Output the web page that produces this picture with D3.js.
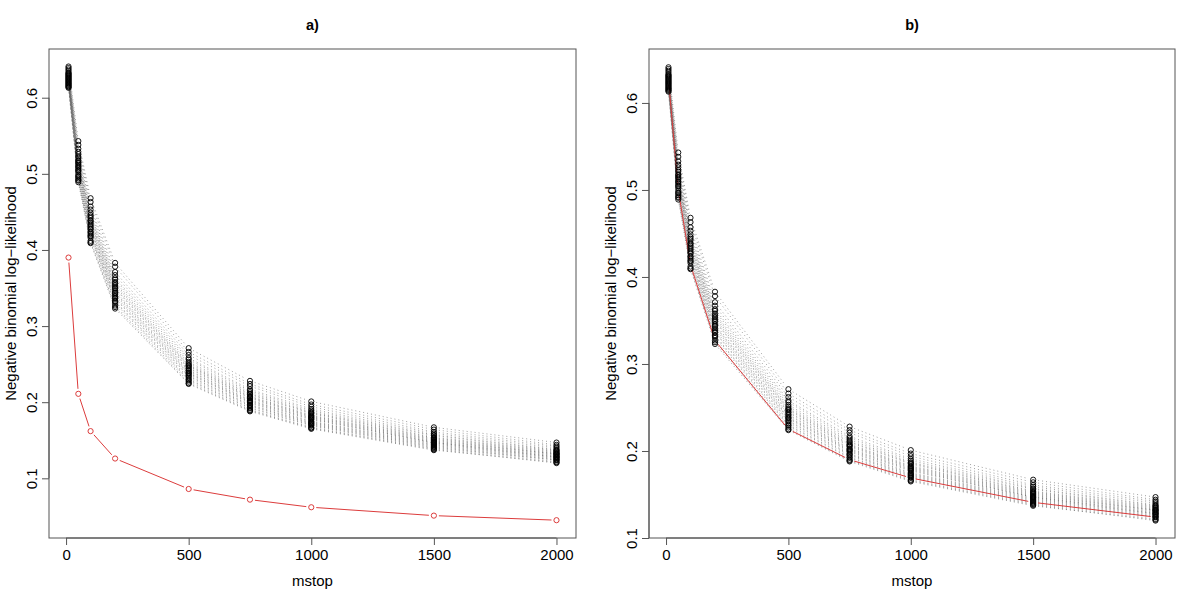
<!DOCTYPE html>
<html>
<head>
<meta charset="utf-8">
<script src="https://cdn.jsdelivr.net/npm/d3@7"></script>
<style>
  body { margin: 0; background: #fff; }
  text { font-family: "Liberation Sans", Arial, Helvetica, sans-serif; fill: #000; }
</style>
</head>
<body>
<svg id="chart" width="1200" height="600"></svg>
<script>
// boosting iterations at which the risk was evaluated
const MSTOP = [10, 50, 100, 200, 500, 750, 1000, 1500, 2000];

// out-of-bag risk, one row per bootstrap fold (25 folds)
const FOLD_RISK = [
    [0.615, 0.489, 0.409, 0.323, 0.224, 0.188, 0.165, 0.137, 0.121],
    [0.613, 0.491, 0.412, 0.325, 0.225, 0.189, 0.166, 0.138, 0.120],
    [0.618, 0.494, 0.410, 0.327, 0.227, 0.190, 0.167, 0.139, 0.122],
    [0.614, 0.492, 0.416, 0.330, 0.229, 0.192, 0.169, 0.140, 0.124],
    [0.619, 0.497, 0.418, 0.332, 0.230, 0.193, 0.170, 0.141, 0.124],
    [0.617, 0.499, 0.419, 0.333, 0.232, 0.195, 0.171, 0.142, 0.125],
    [0.621, 0.496, 0.421, 0.336, 0.234, 0.196, 0.172, 0.143, 0.126],
    [0.620, 0.502, 0.423, 0.337, 0.235, 0.197, 0.173, 0.144, 0.127],
    [0.616, 0.504, 0.424, 0.339, 0.237, 0.199, 0.174, 0.145, 0.128],
    [0.623, 0.505, 0.427, 0.341, 0.238, 0.200, 0.175, 0.146, 0.128],
    [0.622, 0.507, 0.428, 0.343, 0.239, 0.201, 0.177, 0.147, 0.129],
    [0.625, 0.509, 0.430, 0.344, 0.241, 0.202, 0.178, 0.147, 0.130],
    [0.624, 0.510, 0.432, 0.346, 0.242, 0.203, 0.179, 0.148, 0.131],
    [0.627, 0.512, 0.434, 0.349, 0.244, 0.205, 0.180, 0.149, 0.132],
    [0.626, 0.514, 0.436, 0.350, 0.245, 0.206, 0.181, 0.150, 0.132],
    [0.629, 0.515, 0.438, 0.352, 0.247, 0.207, 0.182, 0.151, 0.133],
    [0.628, 0.518, 0.439, 0.354, 0.248, 0.208, 0.183, 0.152, 0.134],
    [0.631, 0.517, 0.442, 0.356, 0.249, 0.210, 0.185, 0.153, 0.135],
    [0.630, 0.521, 0.444, 0.358, 0.251, 0.211, 0.186, 0.154, 0.136],
    [0.633, 0.523, 0.446, 0.361, 0.253, 0.213, 0.187, 0.156, 0.137],
    [0.632, 0.526, 0.449, 0.363, 0.256, 0.215, 0.189, 0.157, 0.138],
    [0.635, 0.529, 0.453, 0.367, 0.258, 0.217, 0.191, 0.159, 0.140],
    [0.637, 0.533, 0.457, 0.371, 0.262, 0.221, 0.194, 0.161, 0.142],
    [0.639, 0.538, 0.463, 0.378, 0.266, 0.224, 0.197, 0.164, 0.144],
    [0.641, 0.543, 0.468, 0.383, 0.271, 0.228, 0.201, 0.167, 0.147]
];

// red curves
const RED_A = [0.390, 0.211, 0.162, 0.126, 0.086, 0.072, 0.062, 0.051, 0.045];
const RED_B = [0.627, 0.500, 0.414, 0.327, 0.225, 0.190, 0.169, 0.141, 0.124];

const X_TICKS = [0, 500, 1000, 1500, 2000];
const Y_TICKS = [0.1, 0.2, 0.3, 0.4, 0.5, 0.6];

const RED = "#dc3c3c";
const GAP = 5; // type = "b": line stops short of each point

const svg = d3.select("#chart");

// R style axis range: data range widened by 4% on each side
function rRange(lo, hi) {
    var d = (hi - lo) * 0.04;
    return [lo - d, hi + d];
}

// pixel segments between consecutive points, cut back by GAP at both ends
function gapSegments(pts) {
    var segs = [];
    for (var i = 1; i < pts.length; i++) {
        var a = pts[i - 1], b = pts[i];
        var dx = b[0] - a[0], dy = b[1] - a[1];
        var len = Math.sqrt(dx * dx + dy * dy);
        if (len <= 2 * GAP) continue;
        var ux = dx / len, uy = dy / len;
        segs.push([a[0] + ux * GAP, a[1] + uy * GAP, b[0] - ux * GAP, b[1] - uy * GAP]);
    }
    return segs;
}

function panel(opts) {
    var box = opts.box;
    var x = d3.scaleLinear().domain(rRange(MSTOP[0], MSTOP[MSTOP.length - 1])).range([box.left, box.right]);
    var y = d3.scaleLinear().domain(opts.ydomain).range([box.bottom, box.top]);

    var g = svg.append("g");

    // dotted fold curves
    var dots = g.append("g")
        .attr("stroke", "#444")
        .attr("stroke-width", 1)
        .attr("stroke-opacity", 0.5)
        .attr("stroke-dasharray", "1,3");
    FOLD_RISK.forEach(function(row) {
        var pts = row.map(function(v, i) { return [x(MSTOP[i]), y(v)]; });
        dots.selectAll(null)
            .data(gapSegments(pts))
            .enter().append("line")
            .attr("x1", function(s) { return s[0]; })
            .attr("y1", function(s) { return s[1]; })
            .attr("x2", function(s) { return s[2]; })
            .attr("y2", function(s) { return s[3]; });
    });

    // red curve
    var redPts = opts.red.map(function(v, i) { return [x(MSTOP[i]), y(v)]; });
    g.append("g")
        .attr("stroke", RED)
        .attr("stroke-width", 1)
        .selectAll("line")
        .data(gapSegments(redPts))
        .enter().append("line")
        .attr("x1", function(s) { return s[0]; })
        .attr("y1", function(s) { return s[1]; })
        .attr("x2", function(s) { return s[2]; })
        .attr("y2", function(s) { return s[3]; });
    if (opts.redPoints) {
        g.append("g").selectAll("circle")
            .data(redPts)
            .enter().append("circle")
            .attr("cx", function(p) { return p[0]; })
            .attr("cy", function(p) { return p[1]; })
            .attr("r", 2.6)
            .attr("fill", "none")
            .attr("stroke", RED)
            .attr("stroke-width", 1);
    }

    // fold points
    var pg = g.append("g")
        .attr("fill", "none")
        .attr("stroke", "#000")
        .attr("stroke-width", 0.9);
    FOLD_RISK.forEach(function(row) {
        pg.selectAll(null)
            .data(row)
            .enter().append("circle")
            .attr("cx", function(v, i) { return x(MSTOP[i]); })
            .attr("cy", function(v) { return y(v); })
            .attr("r", 2.6);
    });

    // box
    g.append("rect")
        .attr("x", box.left)
        .attr("y", box.top)
        .attr("width", box.right - box.left)
        .attr("height", box.bottom - box.top)
        .attr("fill", "none")
        .attr("stroke", "#555")
        .attr("stroke-width", 1);

    // x axis
    var xAxis = d3.axisBottom(x).tickValues(X_TICKS).tickSize(7).tickPadding(4)
        .tickFormat(d3.format("d"));
    var xg = g.append("g")
        .attr("transform", "translate(0," + box.bottom + ")")
        .call(xAxis);
    xg.select(".domain").attr("stroke", "#555").attr("d", "M" + x(0) + ",0H" + x(2000));
    xg.selectAll(".tick line").attr("stroke", "#555");
    xg.selectAll(".tick text").attr("font-size", "15px").attr("font-family", null).attr("fill", "#000");

    // y axis, labels parallel to the axis
    var yAxis = d3.axisLeft(y).tickValues(Y_TICKS).tickSize(7).tickFormat(d3.format(".1f"));
    var yg = g.append("g")
        .attr("transform", "translate(" + box.left + ",0)")
        .call(yAxis);
    yg.select(".domain").attr("stroke", "#555").attr("d", "M0," + y(0.1) + "V" + y(0.6));
    yg.selectAll(".tick line").attr("stroke", "#555");
    yg.selectAll(".tick text")
        .attr("font-size", "15px")
        .attr("font-family", null)
        .attr("fill", "#000")
        .attr("x", null).attr("dy", null)
        .attr("text-anchor", "middle")
        .attr("dominant-baseline", "central")
        .attr("transform", "translate(-18,0) rotate(-90)");

    var cx = (box.left + box.right) / 2;
    var cy = (box.top + box.bottom) / 2;

    g.append("text")
        .attr("x", cx)
        .attr("y", 25)
        .attr("text-anchor", "middle")
        .attr("dominant-baseline", "central")
        .attr("font-size", "14.5px")
        .attr("font-weight", "bold")
        .text(opts.title);

    g.append("text")
        .attr("x", cx)
        .attr("y", 580)
        .attr("text-anchor", "middle")
        .attr("dominant-baseline", "central")
        .attr("font-size", "15px")
        .text("mstop");

    g.append("text")
        .attr("transform", "translate(" + (box.left - 39) + "," + cy + ") rotate(-90)")
        .attr("text-anchor", "middle")
        .attr("dominant-baseline", "central")
        .attr("font-size", "15px")
        .text("Negative binomial log\u2212likelihood");
}

panel({
    title: "a)",
    box: { left: 49, right: 576, top: 49, bottom: 538 },
    ydomain: [0.0216, 0.664],
    red: RED_A,
    redPoints: true
});

panel({
    title: "b)",
    box: { left: 649, right: 1175, top: 49, bottom: 538 },
    ydomain: [0.1, 0.662],
    red: RED_B,
    redPoints: false
});
</script>
</body>
</html>
